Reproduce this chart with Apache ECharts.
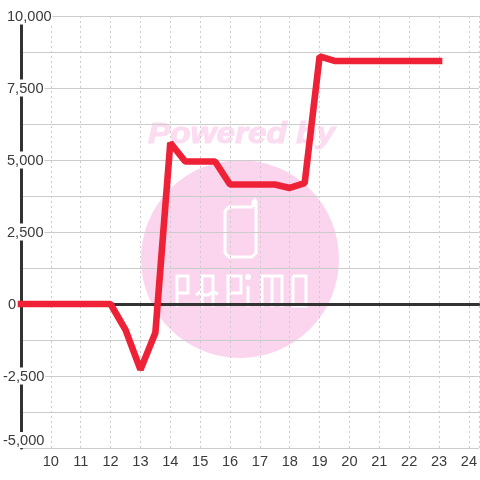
<!DOCTYPE html>
<html><head><meta charset="utf-8">
<style>html,body{margin:0;padding:0;background:#fff}#c{width:480px;height:480px}</style>
<script src="https://cdn.jsdelivr.net/npm/echarts@6/dist/echarts.min.js"></script>
</head><body><div id="c"></div>
<script>
const hours = [9,9.5,10,10.5,11,11.5,12,12.5,13,13.5,14,14.5,15,15.5,16,16.5,17,17.5,18,18.5,19,19.5,20,20.5,21,21.5,22,22.5,23];
const values = [0,0,0,0,0,0,0,-900,-2280,-1000,5600,4950,4950,4950,4150,4150,4150,4150,4030,4200,8600,8440,8440,8440,8440,8440,8440,8440,8440];
const yTickLabels = {'10000':'10,000','7500':'7,500','5000':'5,000','2500':'2,500','0':'0','-2500':'-2,500'};
const yBottomLabel = '-5,000';
const lineData = hours.map((h,i)=>[h,values[i]]);
const chart = echarts.init(document.getElementById('c'),null,{renderer:'canvas'});
const pink='#fbd5ee', ink='#3a3a3a', font='Liberation Sans', fs=14.6;
const tok=(padding)=>({color:ink,fontSize:fs,fontFamily:font,backgroundColor:'#fff',padding});
const logoStrokes=[
 [[253,207],[253,202],[255,200],[256,202],[256,253],[252,257],[229,257],[225,253],[225,211],[229,207],[253,207]],
 [[177,307],[177,276],[188,276],[188,293],[177,293]],
 [[202,307],[202,276],[213,276],[213,307]],
 [[196,295],[200,292],[204,295],[208,295],[213,292],[218,294]],
 [[228,307],[228,276],[241,276],[241,293],[228,293]],
 [[248,286],[248,307]],
 [[262,307],[262,276],[282,276],[282,307]],
 [[272,276],[272,307]],
 [[293,276],[306,276],[306,306],[293,306],[293,276]]
];
chart.setOption({
  animation:false,
  backgroundColor:'#fff',
  grid:{left:20,right:0,top:16,bottom:32,containLabel:false},
  graphic:[
    {type:'circle',z:-1,shape:{cx:240,cy:259,r:99},style:{fill:pink}},
    {type:'text',z:-1,x:148,y:120,scaleX:1.11,style:{text:'Powered by',fill:'#fbdcf0',stroke:'#fbdcf0',lineWidth:1,font:'italic bold 30px "Liberation Sans"'}},
    {type:'circle',z:-1,shape:{cx:248,cy:277,r:3},style:{fill:'#fff'}},
    ...logoStrokes.map(points=>({type:'polyline',z:-1,shape:{points},style:{fill:'none',stroke:'#fff',lineWidth:3}}))
  ],
  xAxis:[{
    type:'value',min:9,max:24.3333,interval:1,
    axisLine:{show:false},axisTick:{show:false},
    splitLine:{show:true,lineStyle:{color:'#ccc',type:[2,3],width:1}},
    axisLabel:{color:ink,fontSize:fs,fontFamily:font,margin:6,showMaxLabel:false,showMinLabel:false,formatter:v=>String(v)}
  },{
    type:'value',min:9,max:24.3333,position:'bottom',
    axisLine:{show:true,onZero:true,onZeroAxisIndex:0,lineStyle:{color:'#333',width:3}},
    axisTick:{show:false},axisLabel:{show:false},splitLine:{show:false}
  }],
  yAxis:[{
    type:'value',min:-5000,max:10000,interval:1250,
    axisLine:{show:true,onZero:false,lineStyle:{color:'#333',width:3}},
    axisTick:{show:false},
    splitLine:{show:true,lineStyle:{color:'#ccc',width:1}},
    axisLabel:{inside:true,margin:-18,align:'left',showMinLabel:true,showMaxLabel:true,
      formatter:v=>{const s=yTickLabels[String(v)];if(s===undefined)return '';
        return s==='0'?'{z|'+s+'}':(v<0?'{n|'+s+'}':'{p|'+s+'}');},
      rich:{p:tok([2,1,0,4]),n:tok([2,1,0,0]),z:tok([2,1,0,5])}}
  },{
    type:'value',min:-5000,max:10000,interval:1250,position:'left',
    axisLine:{show:false,onZero:false},axisTick:{show:false},splitLine:{show:false},
    axisLabel:{inside:true,margin:-18,align:'left',verticalAlign:'bottom',showMinLabel:true,showMaxLabel:false,
      formatter:v=>v===-5000?'{n|'+yBottomLabel+'}':'',
      rich:{n:tok([1,1,0,0])}}
  }],
  series:[{
    type:'line',data:lineData,xAxisIndex:0,yAxisIndex:0,showSymbol:false,symbol:'none',clip:false,
    lineStyle:{color:'#ee2136',width:6.6,cap:'square',join:'bevel'}
  }]
});
</script></body></html>
